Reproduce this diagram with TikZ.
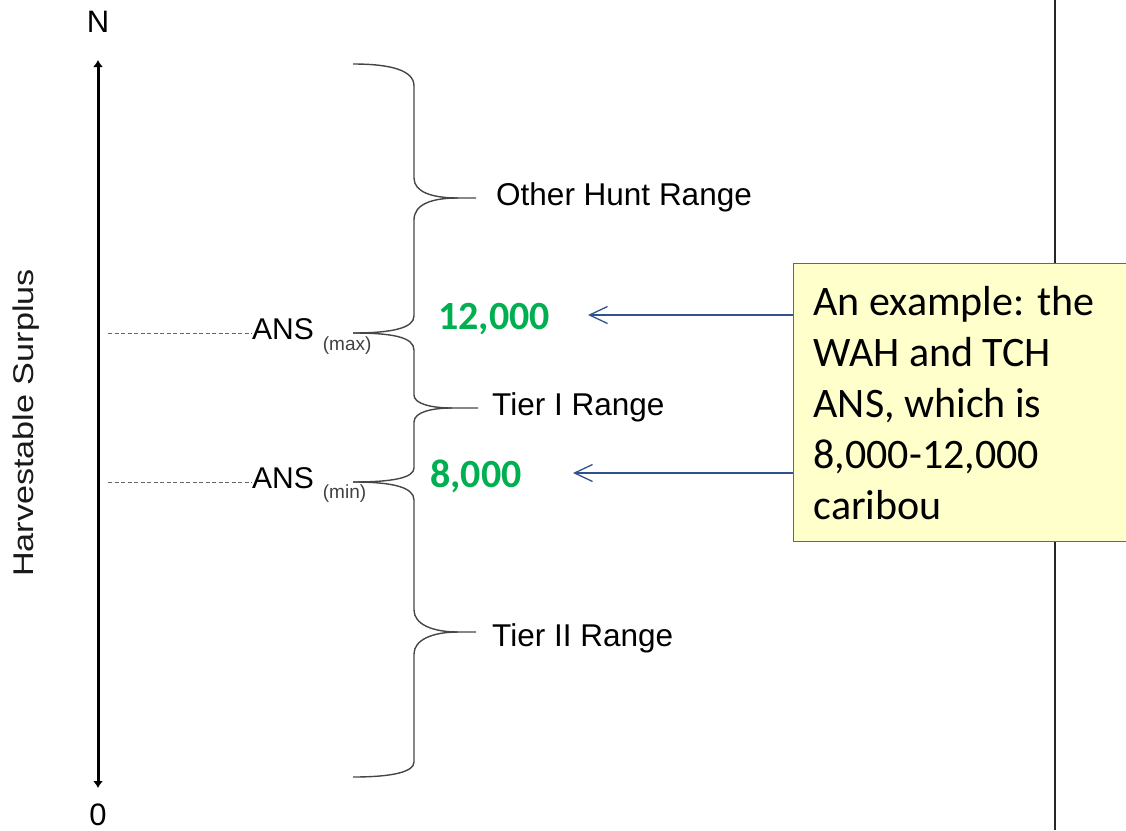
\documentclass[tikz,border=0pt]{standalone}
\usepackage{fontspec}
\usepackage{xcolor}
\usepackage{tikz}
\usetikzlibrary{arrows.meta}
\setmainfont{Liberation Sans}
\newfontfamily\calibri{Carlito}
\definecolor{tiergreen}{RGB}{0,176,80}
\definecolor{pointblue}{RGB}{47,82,143}
\definecolor{notefill}{RGB}{255,255,204}
\definecolor{bracegray}{RGB}{70,70,70}

\begin{document}
\begin{tikzpicture}[x=1pt,y=-1pt]
\tikzstyle{every node}+=[inner sep=0pt]
\tikzstyle{rangebrace}=[bracegray, line width=1.4pt]
\tikzstyle{guide}=[black!60, line width=1pt, dash pattern=on 4pt off 2.5pt]
\tikzstyle{axislabel}=[font=\fontsize{31}{37}\selectfont]
\tikzstyle{rangelabel}=[anchor=base west, font=\fontsize{31.5}{38}\selectfont]
\tikzstyle{numlabel}=[anchor=base west, tiergreen, font=\calibri\bfseries\fontsize{40}{48}\selectfont]
\tikzstyle{notebox}=[draw=black!60, fill=notefill, line width=1.2pt, align=flush left, text width=310pt, inner xsep=20pt, minimum height=278pt, font=\calibri\fontsize{42}{51}\selectfont]
\tikzstyle{pointer}=[pointblue, line width=1.3pt, -{Straight Barb[length=18pt,width=17pt]}]
\clip (0,0) rectangle (1126,830);
\draw [black!85, line width=1.3pt] (1055,0) -- (1055,830);
\coordinate (atop) at (98,60);
\coordinate (abot) at (98,788);
\draw [black, line width=3pt, {Latex[length=7pt,width=10pt]}-{Latex[length=7pt,width=10pt]}] (abot) -- (atop);
\node [axislabel, anchor=base] (nlab) at (98,32) {N};
\node [axislabel, anchor=base] (zlab) at (98,825) {0};
\node [rotate=90, anchor=base, font=\fontsize{28.5}{34}\selectfont, black!90] (hsurp) at (33,423) {\scalebox{1.2}[1]{Harvestable Surplus}};
\node [anchor=base west, font=\fontsize{30}{36}\selectfont] (ansmax) at (252,339) {ANS\hspace{9pt}\raisebox{-11pt}{\fontsize{19}{19}\selectfont\color{black!75}(max)}};
\node [anchor=base west, font=\fontsize{30}{36}\selectfont] (ansmin) at (252,488) {ANS\hspace{9pt}\raisebox{-10pt}{\fontsize{19}{19}\selectfont\color{black!75}(min)}};
\coordinate (dmax) at (108,333);
\coordinate (dmin) at (108,482);
\draw [guide] (dmax) -- (dmax -| ansmax.west);
\draw [guide] (dmin) -- (dmin -| ansmin.west);
\coordinate (tipa) at (458,198);
\coordinate (tipb) at (452,408);
\coordinate (tipc) at (458,632);
\draw [rangebrace] (353,64) .. controls (390,64) and (414,70) .. (414,86) -- (414,178) .. controls (414,192) and (432,198) .. (tipa) -- ++(18,0);
\draw [rangebrace] (tipa) .. controls (432,198) and (414,204) .. (414,220) -- (414,316) .. controls (414,328) and (392,333) .. (353,333);
\draw [rangebrace] (353,333) .. controls (392,333) and (414,337) .. (414,350) -- (414,395) .. controls (414,404) and (432,408) .. (tipb) -- ++(26,0);
\draw [rangebrace] (tipb) .. controls (432,408) and (414,412) .. (414,422) -- (414,468) .. controls (414,478) and (392,482) .. (353,482);
\draw [rangebrace] (353,482) .. controls (392,482) and (414,487) .. (414,500) -- (414,610) .. controls (414,624) and (432,632) .. (tipc) -- ++(18,0);
\draw [rangebrace] (tipc) .. controls (432,632) and (414,640) .. (414,654) -- (414,762) .. controls (414,772) and (392,777) .. (353,777);
\node [rangelabel] (other) at (496,205) {Other Hunt Range};
\node [rangelabel] (tier1) at (492,415) {Tier I Range};
\node [rangelabel] (tier2) at (492,646) {Tier II Range};
\node [numlabel] (n12) at (438,329) {12,000};
\node [numlabel] (n8) at (430,487) {8,000};
\node [notebox, anchor=north west] (note) at (793,263) {An example: the\\WAH and TCH\\ANS, which is\\8,000-12,000\\caribou};
\coordinate (tmax) at (588,315);
\coordinate (tmin) at (573,473);
\draw [pointer] (note.west |- tmax) -- (tmax);
\draw [pointer] (note.west |- tmin) -- (tmin);
\end{tikzpicture}
\end{document}
